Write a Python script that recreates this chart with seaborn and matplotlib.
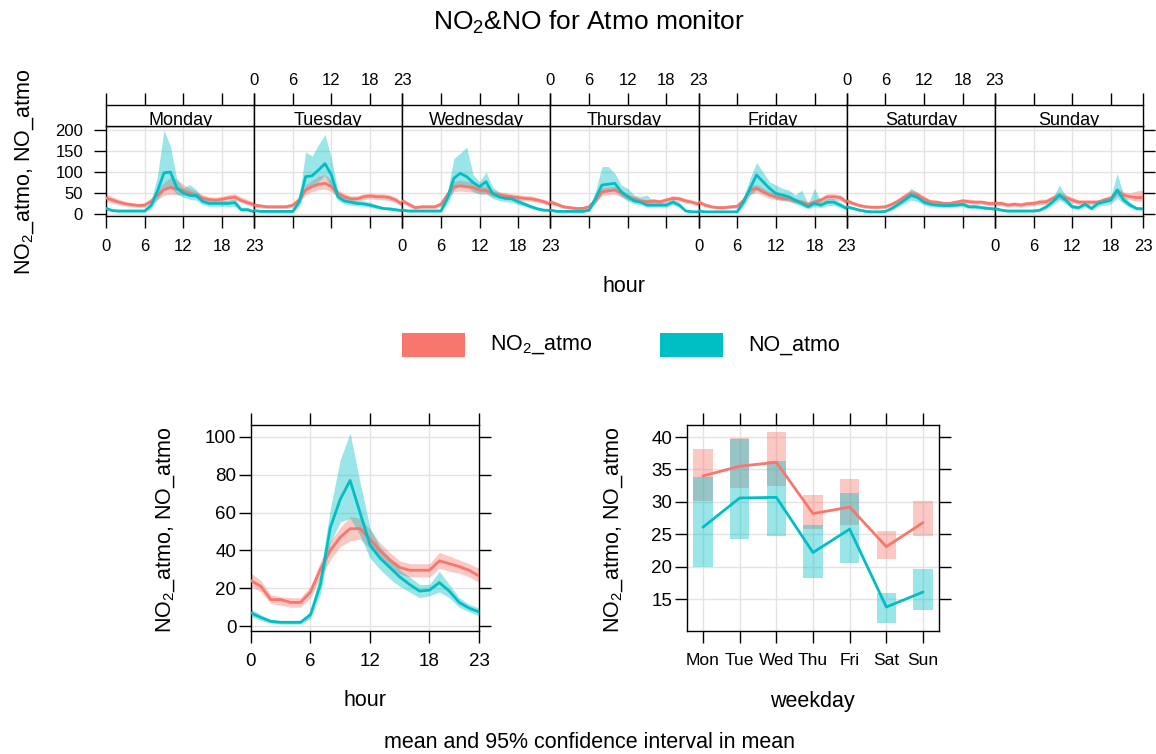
import matplotlib
matplotlib.use("Agg")
import matplotlib.pyplot as plt
from matplotlib.patches import Rectangle
import seaborn as sns

sns.set_theme(style="white")
plt.rcParams["font.family"] = ["Liberation Sans", "DejaVu Sans"]
plt.rcParams["mathtext.fontset"] = "custom"
plt.rcParams["mathtext.rm"] = "Liberation Sans"
plt.rcParams["mathtext.it"] = "Liberation Sans:italic"
for k in ["text.color", "axes.labelcolor", "xtick.color", "ytick.color"]:
    plt.rcParams[k] = "black"

# ---- data ----
days = ["Monday", "Tuesday", "Wednesday", "Thursday", "Friday", "Saturday", "Sunday"]
hours = list(range(24))

# weekday x hour, NO2_atmo
no2_mean = [
    [38, 33, 28, 24, 22, 20, 21, 30, 45, 58, 63, 60, 55, 50, 45, 38, 34, 33, 35, 38, 40, 32, 27, 22],
    [21, 19, 17, 17, 17, 17, 21, 33, 57, 65, 71, 73, 65, 49, 41, 36, 36, 41, 43, 41, 41, 39, 33, 22],
    [31, 23, 15, 17, 17, 17, 23, 45, 65, 67, 65, 63, 57, 56, 49, 45, 43, 41, 39, 37, 36, 33, 29, 23],
    [28, 23, 17, 15, 13, 13, 17, 33, 53, 55, 57, 49, 41, 36, 31, 29, 31, 29, 33, 37, 36, 31, 28, 23],
    [29, 21, 17, 15, 15, 17, 18, 33, 57, 61, 53, 45, 41, 37, 36, 31, 28, 23, 28, 33, 41, 41, 39, 28],
    [31, 25, 20, 17, 16, 16, 17, 23, 31, 41, 49, 45, 36, 29, 28, 25, 25, 28, 31, 29, 28, 28, 25, 25],
    [25, 25, 21, 23, 21, 24, 25, 28, 29, 37, 44, 39, 33, 28, 28, 28, 28, 33, 37, 53, 45, 41, 39, 39],
]
no2_lo = [
    [30, 26, 22, 19, 17, 16, 17, 23, 34, 44, 47, 46, 45, 42, 38, 31, 28, 27, 29, 31, 33, 26, 22, 17],
    [16, 14, 13, 13, 13, 13, 16, 26, 46, 53, 58, 59, 53, 41, 34, 30, 30, 34, 36, 34, 34, 32, 27, 17],
    [25, 18, 11, 13, 13, 13, 18, 36, 53, 55, 53, 52, 47, 47, 41, 38, 36, 34, 33, 31, 30, 28, 24, 18],
    [22, 18, 13, 11, 10, 10, 13, 26, 43, 46, 47, 41, 34, 30, 26, 24, 26, 24, 28, 31, 30, 26, 23, 18],
    [23, 17, 13, 11, 11, 13, 14, 26, 47, 51, 44, 37, 34, 31, 30, 26, 23, 19, 23, 27, 34, 34, 32, 22],
    [25, 20, 16, 13, 12, 12, 13, 18, 25, 33, 40, 37, 29, 24, 23, 20, 20, 23, 25, 24, 23, 23, 20, 20],
    [20, 20, 16, 18, 16, 19, 20, 22, 23, 30, 35, 31, 26, 22, 22, 22, 22, 27, 30, 44, 37, 33, 31, 31],
]
no2_hi = [
    [48, 41, 35, 30, 27, 25, 26, 38, 58, 76, 86, 84, 70, 61, 54, 46, 41, 40, 42, 46, 48, 41, 34, 28],
    [26, 24, 21, 21, 21, 21, 26, 41, 70, 80, 90, 94, 80, 58, 49, 43, 43, 48, 50, 48, 48, 46, 40, 28],
    [38, 28, 19, 21, 21, 21, 28, 55, 78, 80, 78, 76, 68, 66, 57, 53, 51, 48, 46, 44, 43, 39, 35, 29],
    [35, 28, 21, 19, 17, 17, 21, 40, 63, 65, 67, 57, 48, 42, 36, 34, 36, 34, 39, 44, 42, 37, 33, 29],
    [35, 26, 21, 19, 19, 21, 22, 40, 67, 71, 62, 53, 48, 44, 42, 37, 34, 28, 34, 40, 48, 48, 46, 34],
    [38, 30, 24, 21, 20, 20, 21, 28, 37, 49, 58, 53, 43, 34, 33, 30, 30, 33, 37, 35, 33, 33, 30, 30],
    [31, 31, 26, 29, 27, 30, 31, 35, 36, 45, 53, 47, 40, 34, 34, 34, 34, 40, 45, 62, 53, 50, 55, 57],
]

# weekday x hour, NO_atmo
no_mean = [
    [13, 8, 7, 7, 7, 7, 7, 20, 55, 98, 100, 62, 50, 44, 44, 30, 25, 25, 25, 25, 27, 10, 10, 5],
    [8, 6, 6, 6, 6, 6, 6, 29, 89, 91, 105, 120, 93, 41, 31, 28, 25, 24, 21, 17, 13, 12, 10, 8],
    [9, 7, 7, 7, 7, 7, 7, 37, 85, 97, 89, 75, 65, 77, 49, 41, 37, 36, 29, 23, 17, 12, 9, 8],
    [9, 6, 6, 6, 6, 6, 9, 37, 69, 71, 73, 53, 41, 31, 28, 21, 21, 21, 21, 28, 21, 7, 5, 5],
    [7, 5, 5, 5, 5, 5, 5, 29, 61, 93, 77, 61, 49, 45, 41, 33, 25, 17, 25, 21, 28, 28, 21, 13],
    [17, 13, 9, 6, 5, 5, 6, 13, 23, 33, 45, 39, 28, 23, 21, 20, 20, 21, 23, 17, 17, 15, 13, 12],
    [13, 9, 7, 7, 7, 7, 7, 9, 17, 29, 45, 33, 17, 15, 23, 13, 25, 29, 33, 57, 33, 21, 13, 12],
]
no_lo = [
    [9, 5, 4, 4, 4, 4, 4, 12, 35, 55, 62, 47, 40, 35, 33, 22, 18, 18, 18, 18, 18, 6, 6, 2],
    [5, 4, 4, 4, 4, 4, 4, 18, 62, 68, 78, 92, 60, 32, 24, 21, 19, 18, 16, 13, 10, 9, 7, 5],
    [6, 4, 4, 4, 4, 4, 4, 24, 57, 69, 65, 53, 49, 49, 37, 32, 29, 28, 22, 18, 13, 9, 6, 5],
    [6, 4, 4, 4, 4, 4, 6, 25, 49, 53, 57, 41, 31, 24, 22, 16, 16, 16, 16, 22, 16, 5, 3, 3],
    [4, 3, 3, 3, 3, 3, 3, 19, 45, 57, 49, 45, 35, 33, 30, 24, 18, 12, 17, 15, 20, 20, 15, 9],
    [13, 10, 6, 4, 3, 3, 4, 9, 17, 25, 33, 29, 21, 17, 16, 15, 15, 16, 17, 13, 13, 11, 10, 9],
    [10, 6, 4, 4, 4, 4, 4, 6, 12, 21, 33, 24, 12, 10, 17, 9, 18, 21, 24, 37, 24, 15, 9, 9],
]
no_hi = [
    [18, 11, 9, 9, 9, 9, 10, 30, 92, 200, 162, 82, 62, 70, 58, 40, 33, 32, 32, 32, 36, 15, 15, 8],
    [11, 8, 8, 8, 8, 8, 9, 42, 148, 138, 165, 190, 132, 55, 40, 36, 32, 31, 28, 22, 17, 16, 13, 11],
    [13, 10, 10, 10, 10, 10, 10, 52, 132, 145, 160, 93, 77, 100, 65, 52, 46, 44, 37, 29, 22, 16, 12, 11],
    [13, 8, 8, 8, 8, 8, 13, 55, 113, 113, 97, 69, 61, 45, 41, 45, 30, 28, 28, 35, 28, 10, 8, 8],
    [10, 8, 8, 8, 8, 8, 8, 42, 85, 123, 100, 77, 69, 61, 57, 45, 57, 24, 61, 29, 37, 37, 28, 18],
    [21, 17, 12, 8, 7, 7, 8, 17, 29, 42, 61, 50, 35, 29, 26, 25, 25, 26, 29, 22, 22, 19, 17, 15],
    [17, 12, 10, 10, 10, 10, 10, 12, 22, 38, 69, 44, 23, 20, 30, 18, 33, 38, 42, 97, 44, 28, 17, 15],
]

# diurnal (all days)
hour_no2 = [24, 21, 14, 14, 12.5, 12.5, 18, 30, 40, 47, 51.5, 51.5, 46, 40, 35, 31, 29.5, 29.5, 29.5, 34.5, 33, 31.5, 29.5, 26.5]
hour_no2_lo = [21, 18, 12, 11, 10, 10, 15, 26, 35, 42, 45, 46, 41, 36, 31, 27.5, 26, 26, 26, 30.5, 29, 28, 26, 23]
hour_no2_hi = [28, 24, 16.5, 15.5, 15, 15, 21, 34, 45, 52, 58, 57, 51, 44, 39, 34.5, 33, 33, 33, 39, 37, 35, 33, 30.5]
hour_no = [7, 4.5, 2.5, 2, 2, 2, 6, 22, 52, 67, 77, 60, 43, 36, 31, 26, 22, 18.5, 19, 23, 18.5, 12.5, 9.5, 7.5]
hour_no_lo = [5, 3, 1.5, 1, 1, 1, 4, 17, 44, 55, 57, 48, 36, 30, 25, 21, 18, 15, 16, 18, 15, 10, 7.5, 5.5]
hour_no_hi = [9, 6, 3.5, 3, 3, 3, 8, 28, 62, 88, 102, 76, 52, 42, 36, 30, 26, 22, 22, 29, 22, 15, 11.5, 9.5]

# weekday means
wd_labels = ["Mon", "Tue", "Wed", "Thu", "Fri", "Sat", "Sun"]
wd_no2 = [34.0, 35.5, 36.1, 28.2, 29.2, 23.1, 26.8]
wd_no2_lo = [30.1, 32.1, 32.4, 25.8, 26.4, 21.2, 24.7]
wd_no2_hi = [38.2, 39.9, 40.8, 31.1, 33.6, 25.5, 30.2]
wd_no = [26.1, 30.6, 30.7, 22.2, 25.8, 13.8, 16.1]
wd_no_lo = [20.0, 24.3, 24.7, 18.2, 20.6, 11.3, 13.3]
wd_no_hi = [33.8, 39.7, 36.3, 26.4, 31.3, 16.0, 19.6]

RED = "#F8766D"
TEAL = "#00BFC4"
GRID = "#e3e3e3"
W, H = 1156, 754
TICK = 12
TICK2 = 13.5
LAB = 15.5

fig = plt.figure(figsize=(W / 100, H / 100), dpi=100)


def add_ax(x0, y0, x1, y1):
    return fig.add_axes([x0 / W, 1 - y1 / H, (x1 - x0) / W, (y1 - y0) / H])


def style(ax):
    for s in ax.spines.values():
        s.set_color("black")
        s.set_linewidth(1)
    ax.set_xlabel("")
    ax.set_ylabel("")


def band_line(ax, x, mean, lo, hi, color):
    ax.fill_between(x, lo, hi, color=color, alpha=0.4, lw=0, zorder=2)
    sns.lineplot(x=x, y=mean, color=color, lw=2, ax=ax, zorder=3)


# ---- top: weekday x hour ----
PW = (1143 - 106) / 7
for i, day in enumerate(days):
    x0 = 106 + i * PW
    ax = add_ax(x0, 126, x0 + PW, 216)
    st = add_ax(x0, 105, x0 + PW, 126)
    for v in [6, 12, 18]:
        ax.axvline(v, color=GRID, lw=1, zorder=0)
    for v in [0, 50, 100, 150, 200]:
        ax.axhline(v, color=GRID, lw=1, zorder=0)
    band_line(ax, hours, no2_mean[i], no2_lo[i], no2_hi[i], RED)
    band_line(ax, hours, no_mean[i], no_lo[i], no_hi[i], TEAL)
    ax.set_xlim(0, 23)
    ax.set_ylim(-5, 210)
    ax.set_xticks([0, 6, 12, 18, 23])
    ax.set_yticks([0, 50, 100, 150, 200])
    ax.tick_params(axis="x", direction="out", length=8.5, width=1, pad=8,
                   bottom=True, labelbottom=(i % 2 == 0), labelsize=TICK)
    ax.tick_params(axis="y", direction="out", length=8.5, width=1, pad=8,
                   left=(i == 0), labelleft=(i == 0), right=(i == 6),
                   labelright=False, labelsize=TICK)
    style(ax)
    st.set_xlim(0, 23)
    st.set_ylim(0, 1)
    st.set_xticks([0, 6, 12, 18, 23])
    st.set_yticks([])
    st.tick_params(axis="x", direction="out", length=8.5, width=1, pad=4,
                   top=True, bottom=False, labeltop=(i % 2 == 1),
                   labelbottom=False, labelsize=TICK)
    style(st)
    st.text(11.5, 0.06, day, ha="center", va="baseline", fontsize=13, clip_on=True)

fig.text(25 / W, 1 - 172 / H, "NO$_2$_atmo, NO_atmo", rotation=90,
         ha="center", va="center", fontsize=LAB)
fig.text(624 / W, 1 - 287 / H, "hour", ha="center", va="center", fontsize=LAB)

# ---- legend ----
fig.patches.append(Rectangle((402 / W, 1 - 357 / H), 63 / W, 24 / H,
                             transform=fig.transFigure, color=RED, lw=0))
fig.patches.append(Rectangle((660 / W, 1 - 357 / H), 63 / W, 24 / H,
                             transform=fig.transFigure, color=TEAL, lw=0))
fig.text(490 / W, 1 - 345 / H, "NO$_2$_atmo", ha="left", va="center", fontsize=LAB)
fig.text(748 / W, 1 - 345 / H, "NO_atmo", ha="left", va="center", fontsize=LAB)

# ---- bottom left: hour ----
ax = add_ax(251, 425, 479, 631)
for v in [6, 12, 18]:
    ax.axvline(v, color=GRID, lw=1, zorder=0)
for v in [0, 20, 40, 60, 80, 100]:
    ax.axhline(v, color=GRID, lw=1, zorder=0)
band_line(ax, hours, hour_no2, hour_no2_lo, hour_no2_hi, RED)
band_line(ax, hours, hour_no, hour_no_lo, hour_no_hi, TEAL)
ax.set_xlim(0, 23)
ax.set_ylim(-2.6, 106.3)
ax.set_xticks([0, 6, 12, 18, 23])
ax.set_yticks([0, 20, 40, 60, 80, 100])
ax.tick_params(direction="out", length=8.5, width=1, labelsize=TICK2,
               top=True, right=True, bottom=True, left=True)
ax.tick_params(axis="x", pad=7)
ax.tick_params(axis="y", pad=2)
style(ax)
fig.text(166 / W, 1 - 530 / H, "NO$_2$_atmo, NO_atmo", rotation=90,
         ha="center", va="center", fontsize=LAB)
fig.text(365 / W, 1 - 700 / H, "hour", ha="center", va="center", fontsize=LAB)

# ---- bottom right: weekday ----
ax = add_ax(687, 425, 939, 631)
xs = list(range(7))
for v in xs:
    ax.axvline(v, color=GRID, lw=1, zorder=0)
for v in [15, 20, 25, 30, 35, 40]:
    ax.axhline(v, color=GRID, lw=1, zorder=0)
for mean, lo, hi, c in [(wd_no2, wd_no2_lo, wd_no2_hi, RED),
                        (wd_no, wd_no_lo, wd_no_hi, TEAL)]:
    ax.bar(xs, [h - l for h, l in zip(hi, lo)], bottom=lo, width=0.53,
           color=c, alpha=0.4, lw=0, zorder=2)
    sns.lineplot(x=xs, y=mean, color=c, lw=2, ax=ax, zorder=3)
ax.set_xlim(-0.436, 6.436)
ax.set_ylim(10.1, 41.85)
ax.set_xticks(xs)
ax.set_xticklabels(wd_labels)
ax.set_yticks([15, 20, 25, 30, 35, 40])
ax.tick_params(direction="out", length=8.5, width=1, labelsize=TICK2,
               top=True, right=True, bottom=True, left=True)
ax.tick_params(axis="x", labelsize=12.5, pad=7)
ax.tick_params(axis="y", pad=2)
style(ax)
fig.text(614 / W, 1 - 530 / H, "NO$_2$_atmo, NO_atmo", rotation=90,
         ha="center", va="center", fontsize=LAB)
fig.text(812 / W, 1 - 702 / H, "weekday", ha="center", va="center", fontsize=LAB)

# ---- titles ----
fig.text(589 / W, 1 - 22 / H, "NO$_2$&NO for Atmo monitor", ha="center",
         va="center", fontsize=19)
fig.text(590 / W, 1 - 742 / H, "mean and 95% confidence interval in mean",
         ha="center", va="center", fontsize=LAB)

fig.savefig("out.png", dpi=100)
